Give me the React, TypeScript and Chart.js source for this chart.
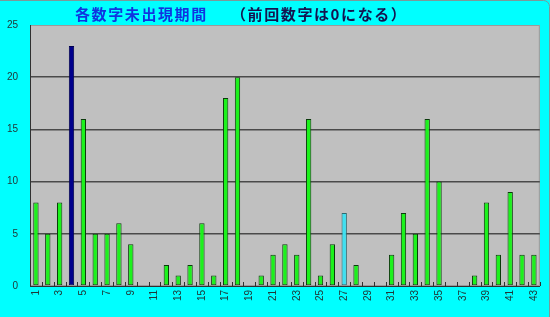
import React, { useEffect, useRef } from "react";
import { Chart, registerables } from "chart.js";
Chart.register(...registerables);

const categories = ["1","2","3","4","5","6","7","8","9","10","11","12","13","14","15","16","17","18","19","20","21","22","23","24","25","26","27","28","29","30","31","32","33","34","35","36","37","38","39","40","41","42","43"];
const values = [8,5,8,23,16,5,5,6,4,0,0,2,1,2,6,1,18,20,0,1,3,4,3,16,1,4,7,2,0,0,3,7,5,16,10,0,0,1,8,3,9,3,3];
const navyCategories = ["4"];
const cyanCategories = ["27"];
const yTicks = [0, 5, 10, 15, 20, 25];
const titleMain = "各数字未出現期間";
const titleSub = "（前回数字は0になる）";

const GREEN = "#1cf21c";
const NAVY = "#00008c";
const CYAN = "#3fe0f0";

export default function App() {
  const ref = useRef<HTMLCanvasElement | null>(null);
  useEffect(() => {
    document.body.style.margin = "0";
    const bg = colorsFor();
    const plugin = {
      id: "deco",
      beforeDraw(chart: any) {
        const { ctx, chartArea: a } = chart;
        ctx.save();
        ctx.fillStyle = "#00ffff";
        ctx.fillRect(0, 0, chart.width, chart.height);
        // outer rounded frame
        ctx.strokeStyle = "#7a9a9a";
        ctx.lineWidth = 1;
        ctx.beginPath();
        if (ctx.roundRect) ctx.roundRect(-10, 0.5, chart.width + 9.5, chart.height + 10, 6);
        else ctx.rect(-10, 0.5, chart.width + 9.5, chart.height + 10);
        ctx.stroke();
        ctx.fillStyle = "#c0c0c0";
        ctx.fillRect(a.left, a.top, a.right - a.left, a.bottom - a.top);
        ctx.strokeStyle = "#9a9a9a";
        ctx.strokeRect(a.left + 0.5, a.top + 0.5, a.right - a.left - 1, a.bottom - a.top - 1);
        // title
        ctx.font = "bold 15px 'Noto Sans CJK JP'";
        ctx.textBaseline = "middle";
        try { (ctx as any).letterSpacing = "1.6px"; } catch (e) {}
        ctx.fillStyle = "#1034e0";
        ctx.fillText(titleMain, 75, 14);
        ctx.fillStyle = "#141450";
        ctx.fillText(titleSub, 231, 14);
        ctx.restore();
      },
      afterDatasetsDraw(chart: any) {
        const { ctx, chartArea: a } = chart;
        const xs = chart.scales.x;
        ctx.save();
        ctx.strokeStyle = "#303030";
        ctx.lineWidth = 1;
        const n = categories.length;
        for (let i = 0; i <= n; i++) {
          let x;
          if (i === 0) x = a.left;
          else if (i === n) x = a.right;
          else x = (xs.getPixelForValue(i - 1) + xs.getPixelForValue(i)) / 2;
          x = Math.round(x) + 0.5;
          ctx.beginPath();
          ctx.moveTo(x, a.bottom);
          ctx.lineTo(x, a.bottom - 4);
          ctx.stroke();
        }
        ctx.restore();
      },
    };
    const chart = new Chart(ref.current!, {
      type: "bar",
      data: {
        labels: categories,
        datasets: [
          {
            data: values,
            backgroundColor: bg,
            borderColor: categories.map((c) => (navyCategories.includes(c) ? "#000050" : cyanCategories.includes(c) ? "#2a6a70" : "#0b3a0b")),
            borderWidth: 1,
            borderSkipped: false,
            barPercentage: 0.45,
            categoryPercentage: 1,
          },
        ],
      },
      options: {
        animation: false,
        responsive: false,
        maintainAspectRatio: false,
        layout: { padding: { top: 25, right: 8, left: 0, bottom: 0 } },
        plugins: { legend: { display: false }, title: { display: false }, tooltip: { enabled: false } },
        scales: {
          x: {
            grid: { display: false, drawTicks: false },
            border: { display: true, color: "#303030", width: 1 },
            ticks: {
              autoSkip: false,
              maxRotation: 90,
              minRotation: 90,
              padding: 4,
              color: "#203838",
              font: { family: "'Liberation Sans', Arial", size: 10 },
              callback: (_v: any, i: number) => (i % 2 === 0 ? categories[i] : ""),
            },
            afterFit: (s: any) => { s.height = 31; },
          },
          y: {
            min: 0,
            max: 25,
            afterBuildTicks: (s: any) => { s.ticks = yTicks.map((v) => ({ value: v })); },
            grid: {
              drawTicks: false,
              color: (c: any) => (c.tick && (c.tick.value === 0 || c.tick.value === 25) ? "rgba(0,0,0,0)" : "#4a4a4a"),
              lineWidth: 1.5,
            },
            border: { display: true, color: "#303030", width: 1 },
            ticks: {
              padding: 12,
              color: "#203838",
              font: { family: "'Liberation Sans', Arial", size: 10 },
            },
            afterFit: (s: any) => { s.width = 30; },
          },
        },
      },
      plugins: [plugin],
    });
    return () => chart.destroy();
  }, []);
  return (
    <div style={{ width: 550, height: 317 }}>
      <canvas ref={ref} width={550} height={317} style={{ display: "block", width: 550, height: 317 }} />
    </div>
  );
}

function colorsFor() {
  return categories.map((c) => (navyCategories.includes(c) ? NAVY : cyanCategories.includes(c) ? CYAN : GREEN));
}
